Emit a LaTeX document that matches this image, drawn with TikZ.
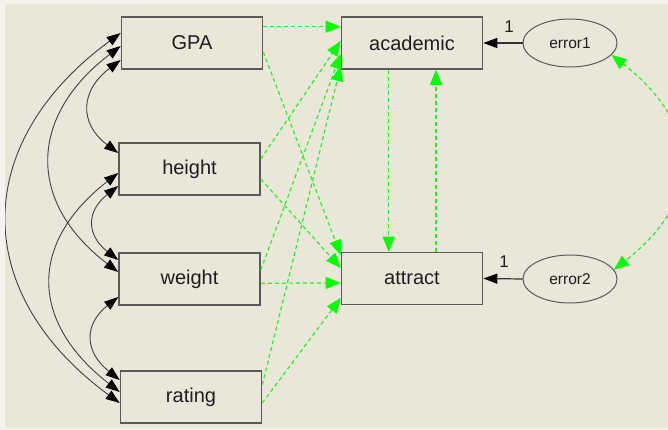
\documentclass[tikz,border=0pt]{standalone}
\usepackage{fontspec}
\setmainfont{Liberation Sans}
\usetikzlibrary{arrows.meta,shapes.geometric}
\definecolor{bgc}{RGB}{234,231,217}
\definecolor{edgec}{RGB}{244,243,236}
\definecolor{boxc}{RGB}{90,90,90}
\definecolor{txtc}{RGB}{30,30,30}
\definecolor{grn}{RGB}{0,255,0}
\definecolor{grnl}{RGB}{40,240,40}
\begin{document}
\begin{tikzpicture}[x=1pt,y=1pt,
  var/.style={draw=boxc,line width=1.6pt,rectangle,minimum width=141pt,minimum height=52pt,inner sep=0pt,font=\fontsize{20}{24}\selectfont,text=txtc},
  err/.style={draw=boxc,line width=1pt,ellipse,minimum width=94pt,minimum height=48pt,inner sep=0pt,font=\fontsize{15.5}{18}\selectfont,text=txtc},
  cov/.style={draw=black!75,line width=0.9pt,{Triangle[length=14pt,width=10pt,color=black]}-{Triangle[length=14pt,width=10pt,color=black]}},
  reg/.style={draw=grnl,line width=1.2pt,dash pattern=on 4pt off 3pt,-{Triangle[length=15pt,width=12pt,color=grn]}},
  gcov/.style={draw=grnl,line width=1.2pt,dash pattern=on 4pt off 3pt,{Triangle[length=15pt,width=12pt,color=grn]}-{Triangle[length=15pt,width=12pt,color=grn]}},
  fix/.style={draw=black!80,line width=1.2pt,-{Triangle[length=14pt,width=10pt,color=black]}},
  lab/.style={font=\fontsize{17}{20}\selectfont,text=txtc,inner sep=0pt}]
\useasboundingbox (0,0) rectangle (668,-430);
\fill[edgec] (0,0) rectangle (668,-430);
\fill[bgc] (5,-4) rectangle (668,-428);
\begin{scope}
\clip (5,-4) rectangle (668,-428);
% nodes
\node[var] (gpa) at (192,-43) {GPA};
\node[var] (hgt) at (189.5,-169) {height};
\node[var] (wgt) at (189.5,-279) {weight};
\node[var] (rat) at (191,-397) {rating};
\node[var] (aca) at (412,-43) {academic};
\node[var] (att) at (412,-278.5) {attract};
\node[err] (e1) at (570,-43) {error1};
\node[err] (e2) at (570,-279) {error2};
% covariances among exogenous variables
\draw[cov] ([yshift=-17pt]gpa.west) .. controls +(-40,-30) and +(-40,30) .. ([yshift=16pt]hgt.west);
\draw[cov] ([yshift=-3pt]gpa.west) .. controls +(-92,-70) and +(-92,70) .. ([yshift=7pt]wgt.west);
\draw[cov] ([yshift=10pt]gpa.west) .. controls +(-150,-110) and +(-150,110) .. ([yshift=-6pt]rat.west);
\draw[cov] ([yshift=-17pt]hgt.west) .. controls +(-32,-25) and +(-32,25) .. ([yshift=19pt]wgt.west);
\draw[cov] ([yshift=-4pt]hgt.west) .. controls +(-90,-70) and +(-90,70) .. ([yshift=5pt]rat.west);
\draw[cov] ([yshift=-18pt]wgt.west) .. controls +(-35,-28) and +(-35,28) .. ([yshift=17pt]rat.west);
% regressions
\draw[reg] ([yshift=16.3pt]gpa.east) -- ([yshift=16.3pt]aca.west);
\draw[reg] ([yshift=-9pt]gpa.east) -- ([yshift=23.5pt]att.west);
\draw[reg] ([yshift=10pt]hgt.east) -- ([yshift=2pt]aca.west);
\draw[reg] ([yshift=-10pt]hgt.east) -- ([yshift=10.5pt]att.west);
\draw[reg] ([yshift=9pt]wgt.east) -- ([yshift=-11pt]aca.west);
\draw[reg] ([yshift=-4.3pt]wgt.east) -- ([yshift=-4.3pt]att.west);
\draw[reg] ([yshift=12pt]rat.east) -- ([yshift=-23pt]aca.west);
\draw[reg] ([yshift=-6pt]rat.east) -- ([yshift=-19.5pt]att.west);
\draw[reg] ([xshift=-23.3pt]aca.south) -- ([xshift=-23.3pt]att.north);
\draw[reg] ([xshift=24pt]att.north) -- ([xshift=24pt]aca.south);
% errors
\draw[fix] (e1.west) -- (aca.east);
\draw[fix] (e2.west) -- (att.east);
\node[lab] (l1) at (509,-27) {1};
\node[lab] (l2) at (504,-262) {1};
\draw[gcov] (e1.-16) .. controls +(90,-70) and +(90,70) .. (e2.12);
\end{scope}
\end{tikzpicture}
\end{document}
